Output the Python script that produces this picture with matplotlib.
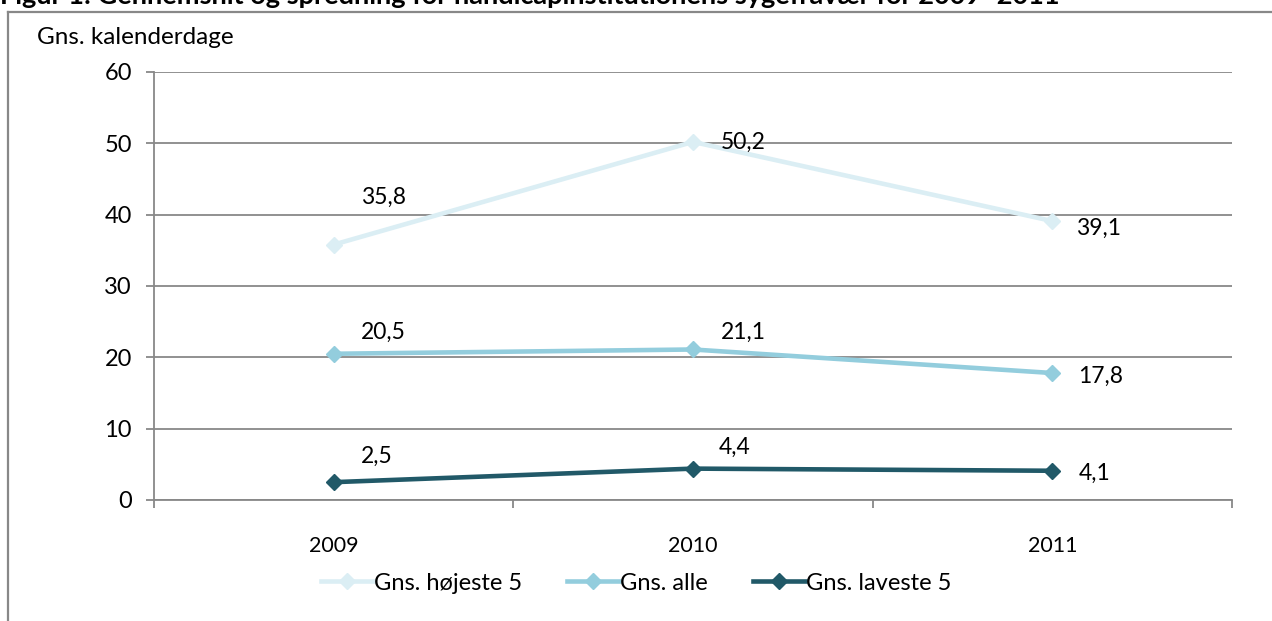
import matplotlib.pyplot as plt
import matplotlib.ticker as mticker

plt.rcParams['font.family'] = ['Lato', 'DejaVu Sans']

years = ['2009', '2010', '2011']
hoejeste = [35.8, 50.2, 39.1]
alle = [20.5, 21.1, 17.8]
laveste = [2.5, 4.4, 4.1]
series_names = ['Gns. højeste 5', 'Gns. alle', 'Gns. laveste 5']
title = 'Figur 1: Gennemsnit og spredning for handicapinstitutionens sygefravær for 2009–2011'
ylabel = 'Gns. kalenderdage'

colors = ['#dbeef4', '#93cddd', '#215968']
# label offsets in pixels (dx to left edge, dy up), per series per year
offsets = [
    [(27, 47), (28, 0), (24, -7)],
    [(27, 21), (28, 17), (26, -3)],
    [(27, 26), (26, 21), (26, -3)],
]

fig = plt.figure(figsize=(12.72, 6.21), dpi=100)
ax = fig.add_axes([154 / 1272, 1 - 500 / 621, (1232 - 154) / 1272, (500 - 72) / 621])

x = list(range(len(years)))
for vals, name, col, offs in zip([hoejeste, alle, laveste], series_names, colors, offsets):
    ax.plot(x, vals, color=col, lw=3.3, marker='D', ms=8.5, label=name, zorder=3)
    for xi, v, (dx, dy) in zip(x, vals, offs):
        ax.annotate(f'{v:.1f}'.replace('.', ','), (xi, v), xytext=(dx * 0.72, dy * 0.72),
                    textcoords='offset points', ha='left', va='center', fontsize=16.5, color='black')

ax.set_xlim(-0.5, 2.5)
ax.set_ylim(0, 60)
ax.set_yticks(range(0, 61, 10))
ax.yaxis.grid(True, color='#888888', lw=1.3)
ax.set_axisbelow(True)

ax.set_xticks([-0.5, 0.5, 1.5, 2.5])
ax.set_xticklabels([])
ax.xaxis.set_minor_locator(mticker.FixedLocator(x))
ax.set_xticklabels(years, minor=True)
ax.tick_params(axis='x', which='minor', length=0, pad=26, labelsize=15.5)
ax.tick_params(axis='x', which='major', length=6, width=1.3, color='#888888')
ax.tick_params(axis='y', length=6, width=1.3, color='#888888', pad=10, labelsize=17)

for s in ['top', 'right']:
    ax.spines[s].set_visible(False)
for s in ['left', 'bottom']:
    ax.spines[s].set_color('#888888')
    ax.spines[s].set_linewidth(1.3)

fig.legend(loc='center', bbox_to_anchor=(0.5, 1 - 583 / 621), ncol=3, frameon=False,
           fontsize=17, handlelength=2.2, handletextpad=0.05, columnspacing=1.9)

fig.text(37 / 1272, 1 - 38 / 621, ylabel, fontsize=17.5, va='center', ha='left')
fig.text(0.0, 1 - 4 / 621, title, fontsize=19.5, fontweight='bold', va='baseline', ha='left')

# outer frame lines
fig.add_artist(plt.Line2D([8 / 1272, 8 / 1272], [0, 1 - 12 / 621], color='#888888', lw=1.6,
                          transform=fig.transFigure))
fig.add_artist(plt.Line2D([8 / 1272, 1], [1 - 12 / 621, 1 - 12 / 621], color='#888888', lw=1.6,
                          transform=fig.transFigure))

fig.savefig('out.png', dpi=100)
